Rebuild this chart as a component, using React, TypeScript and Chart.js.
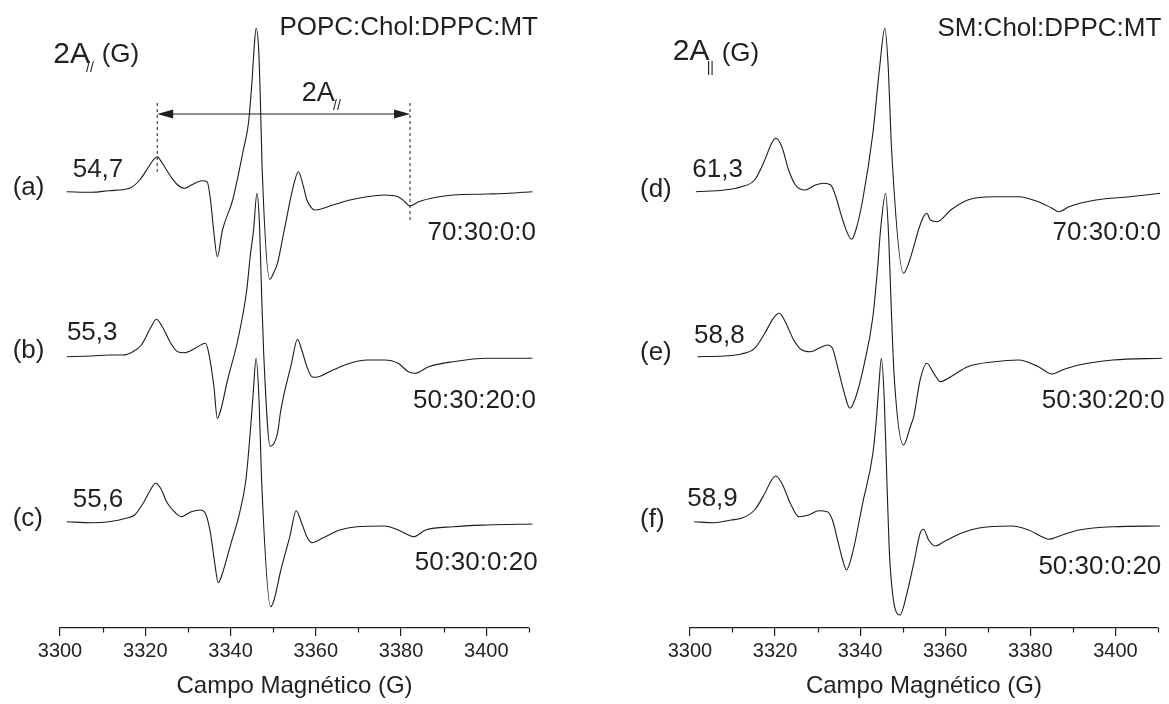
import React, { useEffect, useRef } from 'react';
import { Chart, registerables } from 'chart.js';

Chart.register(...registerables);

const FONT = "'Liberation Sans', Arial, Helvetica, sans-serif";
const INK = '#231f20';

// ---- axis ----
const fieldMin = 3300;
const fieldMax = 3410;
const minorStep = 10;
const majorStep = 20;
const axisTitle = 'Campo Magnético (G)';
const intensityMax = 628;

// ---- left panel spectra (field in G, signal relative to each baseline, a.u.) ----
const fieldA = [3301.6, 3307.4, 3311.5, 3316.3, 3318.7, 3320.8, 3322.0, 3322.8, 3324.0, 3326.0, 3327.6, 3329.2, 3330.8, 3333.3, 3334.5, 3335.3, 3336.1, 3336.9, 3338.1, 3340.5, 3343.0, 3344.2, 3345.0, 3345.5, 3346.0, 3346.6, 3347.0, 3347.4, 3349.2, 3350.2, 3351.0, 3352.6, 3354.7, 3355.9, 3357.1, 3357.9, 3359.1, 3359.9, 3364.0, 3368.0, 3372.0, 3376.1, 3379.3, 3380.9, 3382.1, 3384.1, 3388.2, 3392.2, 3400.3, 3405.1, 3410.8];
const signalA = [0.3, -0.3, 1.3, 3.7, 12, 25.3, 32.7, 35.3, 28.7, 15.3, 7, 3.7, 7, 11.3, 10.3, -8, -41, -64.7, -38, -8, 42, 68.7, 108.7, 142, 163.7, 142, 92, 25.3, -87.3, -80, -71.3, -38, 5.3, 20.3, 5.3, -8, -16.3, -18, -13, -8, -4.7, -3, -4.7, -9.7, -14, -9.7, -5.3, -3, -2, -1.3, 0.3];

const fieldB = [3301.6, 3307.4, 3311.5, 3314.7, 3317.1, 3319.1, 3321.2, 3322.6, 3324.0, 3326.0, 3327.6, 3329.2, 3331.7, 3334.1, 3334.9, 3336.1, 3336.9, 3337.7, 3339.3, 3341.7, 3343.8, 3344.6, 3345.4, 3346.2, 3346.8, 3347.3, 3347.8, 3349.3, 3351.0, 3351.8, 3354.3, 3355.7, 3356.7, 3357.9, 3359.1, 3359.9, 3364.0, 3368.0, 3372.0, 3376.1, 3379.3, 3381.7, 3383.3, 3386.5, 3392.2, 3400.3, 3410.8];
const signalB = [-0.7, 0, 1, 1, 4.3, 11, 27.7, 36.7, 29.3, 12.7, 4.3, 3.3, 7.7, 12.7, 2.7, -30.7, -62.3, -54, -24, 16, 66, 99.3, 126, 162.7, 130, 60, 0, -90.3, -77.3, -54, -7.3, 16.7, 6, -10.7, -20.7, -21.3, -14, -7.3, -4, -4, -7.3, -15.7, -17.3, -10.7, -5.7, -2.3, -2.3];

const fieldC = [3301.6, 3307.4, 3311.5, 3315.5, 3317.5, 3319.5, 3321.2, 3322.4, 3323.6, 3325.2, 3327.2, 3328.4, 3330.8, 3332.9, 3334.1, 3335.3, 3336.3, 3337.1, 3338.1, 3340.1, 3342.1, 3343.6, 3344.6, 3345.3, 3346.0, 3346.7, 3347.3, 3349.4, 3350.2, 3351.8, 3353.9, 3355.4, 3356.7, 3357.9, 3359.1, 3361.5, 3365.6, 3369.6, 3376.1, 3379.3, 3381.7, 3382.9, 3385.8, 3392.2, 3400.3, 3410.8];
const signalC = [0.3, -0.7, 0.3, 3.7, 7, 18.7, 32, 38.7, 33.7, 18.7, 8.7, 5.3, 10.3, 12, 8.7, -11.3, -41.3, -60.7, -51.3, -21.3, 8.7, 42, 88.7, 128, 163.7, 120, 40, -84.7, -78, -48, -14.7, 11.3, -1.3, -14.7, -20.7, -16.3, -8, -4.7, -4, -8, -13, -14.7, -8, -4.7, -3, -2];

// ---- right panel spectra ----
const fieldD = [3301.4, 3308.1, 3312.1, 3315.2, 3317.6, 3319.2, 3320.2, 3321.6, 3323.2, 3324.8, 3327.1, 3329.5, 3331.5, 3333.1, 3334.3, 3335.9, 3338.0, 3339.0, 3340.6, 3343.0, 3344.6, 3345.8, 3346.6, 3347.4, 3350.2, 3351.4, 3352.6, 3353.7, 3354.9, 3355.7, 3356.5, 3358.1, 3361.3, 3365.3, 3371.6, 3377.2, 3381.9, 3385.1, 3386.7, 3389.1, 3395.4, 3403.3, 3410.5];
const signalD = [0.3, 2, 5.3, 12, 32, 48.7, 53.7, 45.3, 22, 7, 2, 7, 8.7, 7, -4.7, -28, -47.3, -38, -8, 58.7, 125.3, 163.7, 125.3, 42, -81.3, -71.3, -54.7, -38, -24.7, -21.3, -28, -29.7, -18, -8, -4.7, -4.7, -9.7, -16.3, -19.7, -14.7, -8, -4.7, -1.3];

const fieldE = [3301.8, 3308.1, 3312.1, 3315.2, 3317.6, 3319.6, 3321.0, 3322.4, 3324.4, 3326.3, 3328.3, 3330.3, 3332.3, 3333.5, 3334.7, 3336.3, 3337.6, 3339.0, 3341.0, 3343.0, 3344.2, 3344.8, 3346.0, 3346.7, 3347.3, 3348.0, 3350.2, 3351.8, 3352.6, 3354.1, 3355.7, 3357.3, 3358.9, 3361.3, 3365.3, 3371.6, 3377.2, 3381.9, 3385.1, 3387.5, 3391.4, 3399.4, 3410.9];
const signalE = [-0.7, 0, 2, 7.7, 22.7, 37.7, 42.7, 34.3, 16, 6, 4.3, 7.7, 11, 7.7, -10.7, -37.3, -52.3, -40.7, -7.3, 39.3, 92.7, 126, 162.7, 120, 50, -20, -89, -70.7, -60.7, -24, -7.3, -17.3, -25.7, -20.7, -10.7, -5.7, -4, -10.7, -18, -14, -9, -4, -2.3];

const fieldF = [3301.0, 3305.7, 3309.7, 3312.1, 3315.2, 3317.6, 3319.2, 3320.2, 3321.6, 3323.6, 3325.6, 3327.9, 3330.3, 3332.3, 3333.5, 3334.7, 3335.9, 3336.8, 3338.2, 3340.6, 3343.0, 3343.8, 3344.4, 3345.0, 3345.7, 3346.3, 3347.0, 3349.4, 3351.0, 3352.6, 3354.1, 3354.9, 3356.1, 3357.7, 3359.7, 3363.7, 3367.6, 3375.6, 3379.6, 3382.7, 3384.3, 3387.5, 3391.4, 3399.4, 3410.5];
const signalF = [0.3, -0.7, 2, 3.7, 12, 28.7, 42, 46, 38.7, 18.7, 5.3, 7, 11.3, 10.3, 2, -18, -38, -48, -31.3, 18.7, 68.7, 102, 136, 163.7, 120, 40, -40, -93, -71.3, -41.3, -11.3, -7.3, -18, -24, -19.7, -11.3, -6.3, -4, -8, -14.7, -17.3, -13, -8, -4.7, -4];

// vertical offsets of the stacked spectra (top, middle, bottom)
const baselines = [436, 272, 106];

// ---- labels ----
const panelTitles = ['POPC:Chol:DPPC:MT', 'SM:Chol:DPPC:MT'];
const leftSampleLabels = ['(a)', '(b)', '(c)'];
const leftSplittings = ['54,7', '55,3', '55,6'];
const rightSampleLabels = ['(d)', '(e)', '(f)'];
const rightSplittings = ['61,3', '58,8', '58,9'];
const compositions = ['70:30:0:0', '50:30:20:0', '50:30:0:20'];

// 2A// marker on spectrum (a): low-field peak and high-field minimum (G)
const markerLow = 3322.8;
const markerHigh = 3382.1;
const markerArrowLevel = 514;
const markerTop = 525;
const markerLowEnd = 455;
const markerHighEnd = 408;

type TextItem = { t: string; dx: number; y: number; size?: number; align?: CanvasTextAlign };

const leftTexts: TextItem[] = [
  { t: '2A', dx: -6.7, y: 63, size: 30 },
  { t: '//', dx: 26, y: 72, size: 14 },
  { t: '(G)', dx: 41.7, y: 62 },
  { t: panelTitles[0], dx: 478, y: 35, align: 'right' },
  { t: '2A', dx: 241.7, y: 100.5, size: 27 },
  { t: '//', dx: 273, y: 110, size: 14 },
  { t: leftSampleLabels[0], dx: -47.3, y: 195 },
  { t: leftSplittings[0], dx: 12.7, y: 176.7 },
  { t: compositions[0], dx: 476, y: 240, align: 'right' },
  { t: leftSampleLabels[1], dx: -47.3, y: 358 },
  { t: leftSplittings[1], dx: 6.9, y: 340 },
  { t: compositions[1], dx: 476, y: 408, align: 'right' },
  { t: leftSampleLabels[2], dx: -47.3, y: 526 },
  { t: leftSplittings[2], dx: 12.7, y: 506.7 },
  { t: compositions[2], dx: 477.6, y: 570, align: 'right' },
];

const rightTexts: TextItem[] = [
  { t: '2A', dx: -17.2, y: 60, size: 30 },
  { t: '||', dx: 16.8, y: 72, size: 14 },
  { t: '(G)', dx: 31.8, y: 61 },
  { t: panelTitles[1], dx: 471.4, y: 36, align: 'right' },
  { t: rightSampleLabels[0], dx: -49.9, y: 197 },
  { t: rightSplittings[0], dx: 2.4, y: 176.7 },
  { t: compositions[0], dx: 471.1, y: 240, align: 'right' },
  { t: rightSampleLabels[1], dx: -49.9, y: 360 },
  { t: rightSplittings[1], dx: 4.1, y: 343 },
  { t: compositions[1], dx: 474.7, y: 408, align: 'right' },
  { t: rightSampleLabels[2], dx: -49.9, y: 527 },
  { t: rightSplittings[2], dx: -2.7, y: 506 },
  { t: compositions[2], dx: 471.4, y: 574, align: 'right' },
];

type PanelProps = {
  left: number;
  width: number;
  padLeft: number;
  padRight: number;
  traces: { field: number[]; signal: number[]; base: number }[];
  texts: TextItem[];
  marker: boolean;
};

function Panel({ left, width, padLeft, padRight, traces, texts, marker }: PanelProps) {
  const ref = useRef<HTMLCanvasElement | null>(null);

  useEffect(() => {
    const canvas = ref.current;
    if (!canvas) return;

    const decor = {
      id: 'decor',
      afterDraw(chart: any) {
        const ctx = chart.ctx;
        const xs = chart.scales.x;
        const ys = chart.scales.y;
        const area = chart.chartArea;
        ctx.save();
        // minor ticks
        ctx.strokeStyle = INK;
        ctx.lineWidth = 1.2;
        xs.ticks.forEach((tk: any) => {
          if (tk.value % majorStep !== 0) {
            const px = Math.round(xs.getPixelForValue(tk.value)) + 0.5;
            ctx.beginPath();
            ctx.moveTo(px, area.bottom);
            ctx.lineTo(px, area.bottom + 4.5);
            ctx.stroke();
          }
        });
        // 2A// marker
        if (marker) {
          const x1 = xs.getPixelForValue(markerLow);
          const x2 = xs.getPixelForValue(markerHigh);
          const yA = ys.getPixelForValue(markerArrowLevel);
          ctx.lineWidth = 1;
          ctx.setLineDash([3, 3]);
          ctx.beginPath();
          ctx.moveTo(x1, ys.getPixelForValue(markerTop));
          ctx.lineTo(x1, ys.getPixelForValue(markerLowEnd));
          ctx.moveTo(x2, ys.getPixelForValue(markerTop));
          ctx.lineTo(x2, ys.getPixelForValue(markerHighEnd));
          ctx.stroke();
          ctx.setLineDash([]);
          ctx.beginPath();
          ctx.moveTo(x1 + 10, yA);
          ctx.lineTo(x2 - 10, yA);
          ctx.stroke();
          ctx.fillStyle = INK;
          ctx.beginPath();
          ctx.moveTo(x1, yA);
          ctx.lineTo(x1 + 16, yA - 4.5);
          ctx.lineTo(x1 + 16, yA + 4.5);
          ctx.closePath();
          ctx.fill();
          ctx.beginPath();
          ctx.moveTo(x2, yA);
          ctx.lineTo(x2 - 16, yA - 4.5);
          ctx.lineTo(x2 - 16, yA + 4.5);
          ctx.closePath();
          ctx.fill();
        }
        // texts
        ctx.fillStyle = INK;
        ctx.textBaseline = 'alphabetic';
        texts.forEach((it) => {
          ctx.font = `${it.size ?? 26}px ${FONT}`;
          ctx.textAlign = it.align ?? 'left';
          ctx.fillText(it.t, area.left + it.dx, area.top + it.y);
        });
        ctx.restore();
      },
    };

    const chart = new Chart(canvas, {
      type: 'line',
      data: {
        datasets: traces.map((tr) => ({
          data: tr.field.map((g, i) => ({ x: g, y: tr.base + tr.signal[i] })),
          borderColor: '#1c1c1c',
          borderWidth: 1.1,
          pointRadius: 0,
          fill: false,
          cubicInterpolationMode: 'monotone' as const,
          clip: false as any,
        })),
      },
      options: {
        animation: false,
        responsive: false,
        maintainAspectRatio: false,
        events: [],
        layout: { padding: { left: padLeft, right: padRight, top: 0, bottom: 0 } },
        plugins: { legend: { display: false }, tooltip: { enabled: false } },
        scales: {
          x: {
            type: 'linear',
            position: 'bottom',
            min: fieldMin,
            max: fieldMax,
            afterFit: (s: any) => {
              s.height = 76;
            },
            ticks: {
              stepSize: minorStep,
              autoSkip: false,
              maxRotation: 0,
              padding: 3,
              color: INK,
              font: { family: FONT, size: 20 },
              callback: (v: any) => (Number(v) % majorStep === 0 ? String(v) : ''),
            },
            grid: {
              display: true,
              drawOnChartArea: false,
              drawTicks: true,
              tickLength: 8,
              lineWidth: 1.2,
              color: (c: any) =>
                c.tick && c.tick.value % majorStep === 0 ? INK : 'rgba(0,0,0,0)',
            },
            border: { display: true, color: INK, width: 1.2 },
            title: {
              display: true,
              text: axisTitle,
              color: INK,
              font: { family: FONT, size: 24 },
              padding: { top: 0, bottom: 3 },
            },
          },
          y: { display: false, min: 0, max: intensityMax },
        },
      },
      plugins: [decor],
    });
    return () => chart.destroy();
  }, []);

  return (
    <canvas
      ref={ref}
      width={width}
      height={704}
      style={{ position: 'absolute', left, top: 0, width, height: 704 }}
    />
  );
}

export default function App() {
  const leftTraces = [
    { field: fieldA, signal: signalA, base: baselines[0] },
    { field: fieldB, signal: signalB, base: baselines[1] },
    { field: fieldC, signal: signalC, base: baselines[2] },
  ];
  const rightTraces = [
    { field: fieldD, signal: signalD, base: baselines[0] },
    { field: fieldE, signal: signalE, base: baselines[1] },
    { field: fieldF, signal: signalF, base: baselines[2] },
  ];
  return (
    <div style={{ position: 'absolute', left: 0, top: 0, width: 1169, height: 704, background: '#fff', overflow: 'hidden' }}>
      <Panel left={0} width={600} padLeft={60} padRight={71} traces={leftTraces} texts={leftTexts} marker={true} />
      <Panel left={600} width={569} padLeft={89.9} padRight={11} traces={rightTraces} texts={rightTexts} marker={false} />
    </div>
  );
}
